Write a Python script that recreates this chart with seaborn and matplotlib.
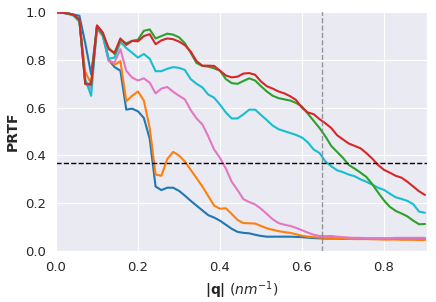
import numpy as np
import pandas as pd
import matplotlib
matplotlib.use("Agg")
import matplotlib.pyplot as plt
import seaborn as sns

# q grid (nm^-1)
q = [0.0, 0.0143, 0.0286, 0.0429, 0.0571, 0.0714, 0.0857, 0.1, 0.1143, 0.1286,
     0.1429, 0.1571, 0.1714, 0.1857, 0.2, 0.2143, 0.2286, 0.2429, 0.2571, 0.2714,
     0.2857, 0.3, 0.3143, 0.3286, 0.3429, 0.3571, 0.3714, 0.3857, 0.4, 0.4143,
     0.4286, 0.4429, 0.4571, 0.4714, 0.4857, 0.5, 0.5143, 0.5286, 0.5429, 0.5571,
     0.5714, 0.5857, 0.6, 0.6143, 0.6286, 0.6429, 0.6571, 0.6714, 0.6857, 0.7,
     0.7143, 0.7286, 0.7429, 0.7571, 0.7714, 0.7857, 0.8, 0.8143, 0.8286, 0.8429,
     0.8571, 0.8714, 0.8857, 0.9]

prtf_blue = [1.0, 0.998, 0.995, 0.99, 0.985, 0.87, 0.74, 0.94, 0.905, 0.80,
             0.77, 0.755, 0.592, 0.596, 0.585, 0.557, 0.47, 0.27, 0.255, 0.265,
             0.265, 0.252, 0.232, 0.21, 0.19, 0.17, 0.15, 0.14, 0.127, 0.11,
             0.093, 0.08, 0.076, 0.074, 0.068, 0.063, 0.06, 0.06, 0.06, 0.06,
             0.06, 0.059, 0.058, 0.056, 0.054, 0.053, 0.052, 0.052, 0.052, 0.051,
             0.051, 0.051, 0.051, 0.051, 0.051, 0.05, 0.05, 0.05, 0.051, 0.051,
             0.05, 0.05, 0.05, 0.05]

prtf_orange = [1.0, 0.998, 0.995, 0.988, 0.965, 0.75, 0.70, 0.94, 0.905, 0.80,
               0.78, 0.795, 0.627, 0.65, 0.668, 0.63, 0.515, 0.32, 0.315, 0.385,
               0.415, 0.40, 0.375, 0.34, 0.305, 0.27, 0.23, 0.19, 0.177, 0.179,
               0.155, 0.13, 0.117, 0.116, 0.115, 0.105, 0.095, 0.089, 0.083, 0.079,
               0.076, 0.07, 0.064, 0.06, 0.058, 0.056, 0.055, 0.054, 0.053, 0.052,
               0.051, 0.05, 0.05, 0.05, 0.049, 0.049, 0.048, 0.048, 0.048, 0.047,
               0.047, 0.047, 0.046, 0.046]

prtf_green = [1.0, 0.998, 0.995, 0.988, 0.965, 0.70, 0.695, 0.94, 0.905, 0.85,
              0.825, 0.885, 0.87, 0.88, 0.885, 0.922, 0.928, 0.89, 0.90, 0.91,
              0.906, 0.895, 0.87, 0.83, 0.787, 0.775, 0.772, 0.765, 0.755, 0.72,
              0.703, 0.70, 0.712, 0.723, 0.714, 0.69, 0.668, 0.65, 0.64, 0.635,
              0.63, 0.62, 0.605, 0.575, 0.545, 0.515, 0.48, 0.44, 0.415, 0.39,
              0.36, 0.345, 0.328, 0.31, 0.28, 0.245, 0.212, 0.185, 0.168, 0.157,
              0.145, 0.127, 0.112, 0.113]

prtf_red = [1.0, 0.998, 0.995, 0.99, 0.97, 0.70, 0.70, 0.945, 0.915, 0.845,
            0.83, 0.89, 0.863, 0.88, 0.878, 0.90, 0.908, 0.866, 0.882, 0.89,
            0.887, 0.877, 0.862, 0.835, 0.795, 0.776, 0.776, 0.775, 0.755, 0.735,
            0.727, 0.73, 0.743, 0.745, 0.738, 0.71, 0.69, 0.68, 0.668, 0.66,
            0.648, 0.632, 0.60, 0.58, 0.573, 0.552, 0.535, 0.515, 0.485, 0.467,
            0.45, 0.44, 0.43, 0.41, 0.387, 0.36, 0.34, 0.328, 0.315, 0.307,
            0.29, 0.27, 0.25, 0.235]

prtf_pink = [1.0, 0.998, 0.995, 0.988, 0.965, 0.70, 0.68, 0.93, 0.90, 0.795,
             0.79, 0.845, 0.755, 0.726, 0.714, 0.723, 0.705, 0.66, 0.68, 0.687,
             0.667, 0.65, 0.635, 0.59, 0.555, 0.53, 0.48, 0.425, 0.39, 0.345,
             0.29, 0.255, 0.217, 0.205, 0.195, 0.177, 0.155, 0.133, 0.117, 0.11,
             0.105, 0.097, 0.087, 0.077, 0.068, 0.063, 0.062, 0.063, 0.06, 0.058,
             0.056, 0.055, 0.055, 0.054, 0.054, 0.054, 0.054, 0.054, 0.055, 0.055,
             0.055, 0.055, 0.055, 0.055]

prtf_cyan = [1.0, 0.998, 0.993, 0.985, 0.96, 0.72, 0.65, 0.94, 0.90, 0.805,
             0.81, 0.875, 0.85, 0.83, 0.81, 0.825, 0.805, 0.753, 0.753, 0.763,
             0.77, 0.767, 0.758, 0.72, 0.70, 0.685, 0.655, 0.642, 0.613, 0.58,
             0.555, 0.555, 0.572, 0.592, 0.592, 0.57, 0.548, 0.525, 0.51, 0.502,
             0.494, 0.486, 0.475, 0.455, 0.425, 0.41, 0.375, 0.355, 0.338, 0.33,
             0.32, 0.313, 0.30, 0.29, 0.278, 0.265, 0.256, 0.24, 0.225, 0.218,
             0.21, 0.196, 0.165, 0.16]

series = [
    (prtf_blue, "tab:blue"),
    (prtf_orange, "tab:orange"),
    (prtf_pink, "tab:pink"),
    (prtf_cyan, "tab:cyan"),
    (prtf_green, "tab:green"),
    (prtf_red, "tab:red"),
]

sns.set_style("darkgrid")
plt.rcParams["font.family"] = ["DejaVu Sans"]

fig, ax = plt.subplots(figsize=(4.36, 3.02), dpi=100)
fig.subplots_adjust(left=56 / 436, right=427 / 436, top=1 - 11 / 302, bottom=1 - 251 / 302)

for vals, col in series:
    sns.lineplot(x=q, y=vals, color=col, linewidth=1.5, ax=ax)

ax.axhline(1 / np.e, color="black", linestyle="--", linewidth=1)
ax.axvline(0.65, color="gray", linestyle="--", linewidth=1, alpha=0.8)

ax.set_xlim(0, 0.905)
ax.set_ylim(0, 1.005)
ax.set_xticks([0.0, 0.2, 0.4, 0.6, 0.8])
ax.set_yticks([0.0, 0.2, 0.4, 0.6, 0.8, 1.0])
ax.tick_params(labelsize=9.5)
ax.set_xlabel(r"$\mathbf{|q|}$ $(nm^{-1})$", fontsize=10)
ax.set_ylabel("PRTF", fontsize=10, fontweight="bold")

plt.savefig("out.png", dpi=100)
